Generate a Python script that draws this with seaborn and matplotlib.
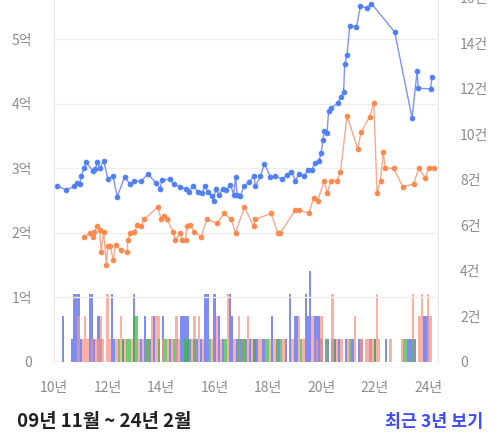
import numpy as np
import pandas as pd
import matplotlib
matplotlib.use('Agg')
import matplotlib.pyplot as plt
import seaborn as sns

# 매매 평균가 (억) - x in decimal years
sale_x = [2010.12, 2010.46, 2010.74, 2010.87, 2010.96, 2011.02, 2011.11, 2011.21, 2011.47, 2011.55,
          2011.61, 2011.71, 2011.86, 2012.01, 2012.21, 2012.36, 2012.64, 2012.86, 2013.01, 2013.26,
          2013.51, 2013.83, 2013.96, 2014.04, 2014.33, 2014.50, 2014.73, 2014.92, 2015.04, 2015.19,
          2015.39, 2015.54, 2015.63, 2015.76, 2015.91, 2015.97, 2016.04, 2016.16, 2016.31, 2016.44,
          2016.60, 2016.72, 2016.79, 2016.85, 2016.97, 2017.10, 2017.28, 2017.47, 2017.53, 2017.72,
          2017.87, 2018.09, 2018.28, 2018.53, 2018.72, 2018.88, 2019.03, 2019.15, 2019.34, 2019.50,
          2019.65, 2019.75, 2019.90, 2019.99, 2020.06, 2020.11, 2020.21, 2020.27, 2020.36, 2020.61,
          2020.74, 2020.83, 2020.87, 2020.96, 2021.06, 2021.31, 2021.46, 2021.71, 2021.87, 2022.74,
          2023.39, 2023.58, 2023.62, 2024.08, 2024.14]
sale_price = [2.73, 2.66, 2.72, 2.77, 2.75, 2.88, 3.00, 3.09, 2.95, 2.99,
              3.09, 3.00, 3.12, 2.84, 2.88, 2.56, 2.86, 2.75, 2.80, 2.80,
              2.91, 2.77, 2.68, 2.82, 2.83, 2.75, 2.71, 2.68, 2.64, 2.72,
              2.64, 2.62, 2.72, 2.63, 2.57, 2.49, 2.68, 2.59, 2.68, 2.67,
              2.74, 2.59, 2.87, 2.59, 2.57, 2.72, 2.78, 2.88, 2.72, 2.88,
              3.07, 2.87, 2.88, 2.83, 2.90, 2.94, 2.81, 2.91, 2.88, 2.97,
              2.98, 3.08, 3.11, 3.23, 3.44, 3.57, 3.54, 3.89, 3.93, 4.01,
              4.11, 4.18, 4.61, 4.76, 5.21, 5.19, 5.51, 5.48, 5.55, 5.11,
              3.78, 4.51, 4.24, 4.23, 4.42]

# 전세 평균가 (억)
jeonse_x = [2011.11, 2011.34, 2011.47, 2011.51, 2011.61, 2011.71, 2011.76, 2011.86, 2011.96, 2012.01,
            2012.11, 2012.21, 2012.30, 2012.51, 2012.74, 2012.76, 2012.86, 2013.01, 2013.11, 2013.26,
            2013.38, 2013.88, 2014.01, 2014.10, 2014.23, 2014.46, 2014.54, 2014.73, 2014.79, 2014.92,
            2014.98, 2015.10, 2015.25, 2015.51, 2015.71, 2016.10, 2016.37, 2016.62, 2016.79, 2017.12,
            2017.47, 2017.53, 2018.12, 2018.37, 2018.47, 2019.03, 2019.15, 2019.53, 2019.71, 2019.86,
            2020.11, 2020.21, 2020.36, 2020.59, 2020.71, 2020.96, 2021.36, 2021.48, 2021.81, 2021.96,
            2022.08, 2022.21, 2022.31, 2022.39, 2022.70, 2023.05, 2023.45, 2023.64, 2023.89, 2024.01,
            2024.20]
jeonse_price = [1.93, 2.00, 1.94, 2.01, 2.11, 2.04, 1.70, 2.02, 1.50, 1.79,
                1.79, 1.58, 1.81, 1.73, 1.70, 1.89, 2.00, 2.01, 2.12, 2.11,
                2.21, 2.40, 2.21, 2.26, 2.21, 2.01, 1.89, 2.00, 1.89, 1.89,
                2.11, 2.12, 2.01, 1.94, 2.21, 2.15, 2.30, 2.21, 2.00, 2.40,
                2.10, 2.21, 2.30, 2.00, 2.00, 2.36, 2.36, 2.30, 2.54, 2.50,
                2.81, 2.61, 2.81, 2.81, 2.94, 3.81, 3.30, 3.56, 3.80, 4.01,
                2.62, 2.81, 3.25, 3.00, 3.00, 2.71, 2.76, 3.00, 2.85, 3.00,
                3.00]

# 월별 거래 건수
sale_months = ['2010-01', '2010-05', '2010-09', '2010-10', '2010-11', '2010-12', '2011-01', '2011-05',
               '2011-06', '2011-07', '2011-09', '2011-10', '2012-03', '2012-04', '2012-08', '2013-01',
               '2013-04', '2013-06', '2013-08', '2013-10', '2014-02', '2014-05', '2014-08', '2014-10',
               '2014-11', '2014-12', '2015-01', '2015-02', '2015-05', '2015-07', '2015-09', '2015-10',
               '2016-01', '2016-03', '2016-05', '2016-08', '2016-09', '2016-11', '2017-01', '2017-03',
               '2017-05', '2017-07', '2017-08', '2017-11', '2018-03', '2018-06', '2018-09', '2018-11',
               '2019-01', '2019-02', '2019-06', '2019-07', '2019-08', '2019-10', '2019-11', '2019-12',
               '2020-01', '2020-04', '2020-06', '2020-07', '2020-09', '2020-12', '2021-03', '2021-06',
               '2021-07', '2021-11', '2022-01', '2022-06', '2023-04', '2023-05', '2023-07', '2023-11',
               '2023-12', '2024-01']
sale_counts = [1, 2, 1, 3, 3, 3, 1, 3,
               3, 1, 2, 1, 3, 1, 1, 3,
               1, 2, 1, 2, 2, 1, 1, 2,
               2, 2, 2, 1, 1, 1, 3, 3,
               3, 2, 1, 3, 2, 1, 1, 1,
               1, 1, 1, 1, 2, 1, 1, 3,
               2, 2, 3, 2, 4, 2, 2, 2,
               1, 1, 1, 1, 1, 1, 1, 1,
               1, 1, 1, 1, 1, 1, 1, 2,
               2, 2]

jeonse_months = ['2010-12', '2011-02', '2011-03', '2011-04', '2011-06', '2011-08', '2011-09', '2011-10',
                 '2011-11', '2012-01', '2012-02', '2012-05', '2012-07', '2012-09', '2012-12', '2013-03',
                 '2013-05', '2013-07', '2013-09', '2013-11', '2013-12', '2014-02', '2014-04', '2014-06',
                 '2014-08', '2014-09', '2015-03', '2015-04', '2015-06', '2015-08', '2015-12', '2016-02',
                 '2016-04', '2016-07', '2016-10', '2016-12', '2017-02', '2017-04', '2017-06', '2017-09',
                 '2017-10', '2018-02', '2018-04', '2018-05', '2018-08', '2018-12', '2019-03', '2019-05',
                 '2019-09', '2019-11', '2020-01', '2020-03', '2020-06', '2020-08', '2020-10', '2021-01',
                 '2021-04', '2021-07', '2021-09', '2021-10', '2021-11', '2021-12', '2022-02', '2022-03',
                 '2022-08', '2023-01', '2023-06', '2023-09', '2023-10', '2024-01', '2024-02']
jeonse_counts = [2, 1, 2, 1, 1, 1, 1, 2,
                 1, 3, 1, 1, 2, 1, 1, 1,
                 1, 1, 2, 2, 2, 1, 1, 1,
                 2, 1, 1, 2, 2, 1, 1, 2,
                 1, 3, 1, 2, 1, 2, 1, 1,
                 1, 1, 1, 1, 1, 1, 2, 1,
                 2, 1, 2, 1, 3, 1, 1, 1,
                 2, 1, 1, 1, 1, 1, 3, 1,
                 1, 1, 3, 2, 3, 3, 2]

rent_months = ['2012-06', '2012-08', '2012-10', '2012-11', '2013-01', '2013-02', '2013-07', '2013-12',
               '2014-03', '2014-07', '2014-12', '2015-01', '2015-04', '2015-11', '2016-06', '2016-12',
               '2017-02', '2017-07', '2017-12', '2018-01', '2018-05', '2018-07', '2019-04', '2020-03',
               '2020-07', '2021-02', '2022-01', '2023-02', '2023-03', '2023-06']
rent_counts = [1, 1, 1, 1, 2, 2, 1, 1,
               1, 1, 1, 1, 1, 1, 1, 1,
               1, 1, 1, 1, 1, 1, 1, 1,
               1, 1, 1, 1, 1, 1]

left_ticks = [0, 1, 2, 3, 4, 5]
left_labels = ['0', '1억', '2억', '3억', '4억', '5억']
right_ticks = [0, 2, 4, 6, 8, 10, 12, 14, 16]
right_labels = ['0', '2건', '4건', '6건', '8건', '10건', '12건', '14건', '16건']
year_ticks = [2010, 2012, 2014, 2016, 2018, 2020, 2022, 2024]
year_labels = ['10년', '12년', '14년', '16년', '18년', '20년', '22년', '24년']


def to_year(months):
    return [int(m[:4]) + (int(m[5:]) - 1) / 12 for m in months]


sns.set_style('white')
plt.rcParams['font.family'] = ['Noto Sans CJK KR', 'DejaVu Sans']

fig = plt.figure(figsize=(5, 4.42), dpi=100)
ax = fig.add_axes([0.108, 0.181, 0.768, 0.824])
ax2 = ax.twinx()

bar_sets = [(sale_months, sale_counts, '#5f6ff2', 0.8),
            (jeonse_months, jeonse_counts, '#fb937e', 0.72),
            (rent_months, rent_counts, '#3fb43f', 0.72)]
for months, counts, color, alpha in bar_sets:
    df = pd.DataFrame({'year': to_year(months), 'count': counts})
    sns.histplot(data=df, x='year', weights='count', binwidth=1 / 12,
                 binrange=(2009 + 9.5 / 12, 2024 + 2.5 / 12), ax=ax2, color=color,
                 alpha=alpha, edgecolor='none', linewidth=0, shrink=1.0)

sns.lineplot(x=sale_x, y=sale_price, ax=ax, color='#7f93f7', linewidth=1.0,
             marker='o', markersize=3.3, markerfacecolor='#4f80f5', markeredgecolor='#4f80f5')
sns.lineplot(x=jeonse_x, y=jeonse_price, ax=ax, color='#f8a88e', linewidth=1.0,
             marker='o', markersize=3.3, markerfacecolor='#fa8a4d', markeredgecolor='#fa8a4d')

ax.set_zorder(ax2.get_zorder() + 1)
ax.patch.set_visible(False)

ax.set_xlim(2010.0, 2024.36)
ax.set_ylim(0, 5.64)
ax2.set_ylim(0, 16)
ax.set_yticks(left_ticks, left_labels)
ax2.set_yticks(right_ticks, right_labels)
ax.set_xticks(year_ticks, year_labels)
ax2.set_ylabel('')
ax.set_xlabel('')

ax2.grid(False)
ax.grid(False)
for t in left_ticks[1:]:
    ax.axhline(t, color='#eeeeee', linewidth=1, zorder=0)

for a in (ax, ax2):
    for s in a.spines.values():
        s.set_visible(False)
ax.spines['left'].set_visible(True)
ax.spines['left'].set_color('#e6e6e6')
ax2.spines['right'].set_visible(True)
ax2.spines['right'].set_color('#e6e6e6')

ax.tick_params(axis='y', length=0, pad=16, labelsize=10, labelcolor='#8c8c8c')
ax2.tick_params(axis='y', length=0, pad=16, labelsize=10, labelcolor='#8c8c8c')
ax.tick_params(axis='x', length=0, pad=14, labelsize=10, labelcolor='#8c8c8c')

fig.text(0.034, 0.034, '09년 11월 ~ 24년 2월', fontsize=13.5, fontweight='bold', color='#222222')
fig.text(0.966, 0.034, '최근 3년 보기', fontsize=12.5, fontweight='bold', color='#3d4cf0', ha='right')

fig.savefig('out.png', dpi=100)
